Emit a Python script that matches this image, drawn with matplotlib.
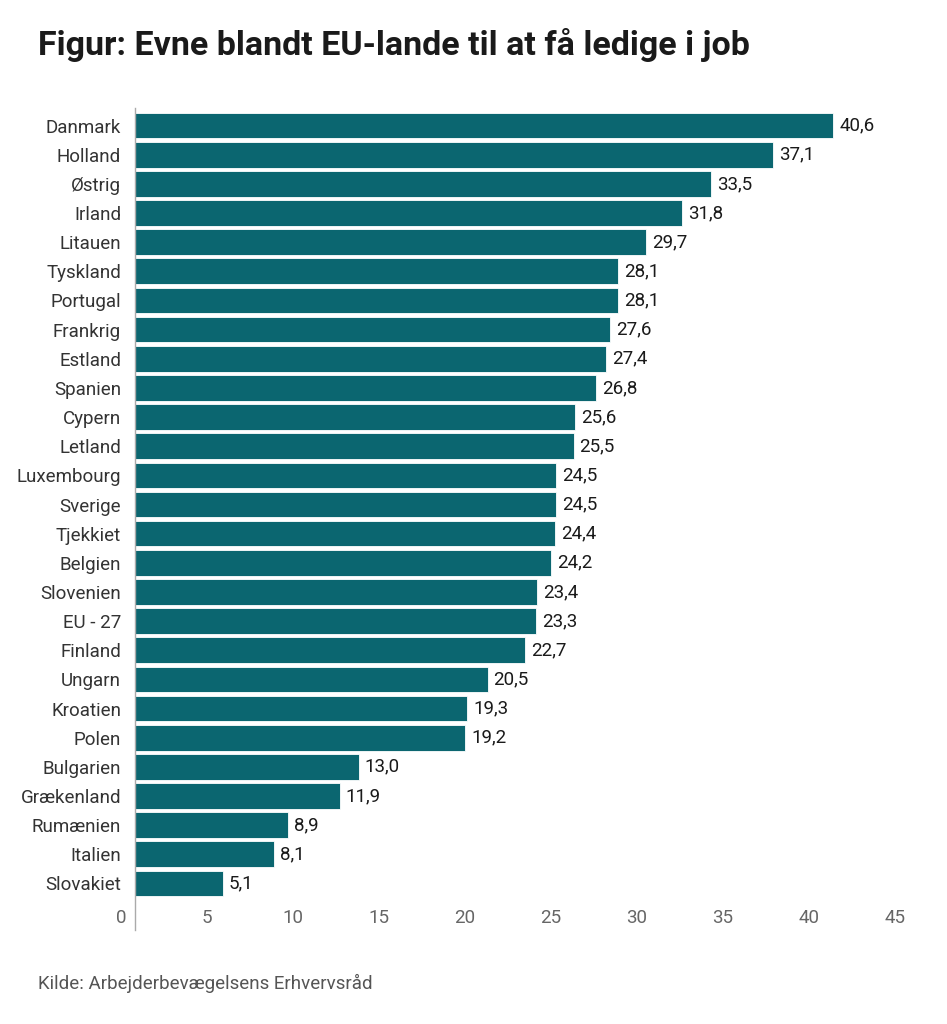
import numpy as np
import matplotlib
matplotlib.use('Agg')
import matplotlib.pyplot as plt
import matplotlib.transforms as mtransforms

plt.rcParams['font.family'] = ['Roboto', 'DejaVu Sans']

countries = ['Danmark', 'Holland', 'Østrig', 'Irland', 'Litauen', 'Tyskland',
             'Portugal', 'Frankrig', 'Estland', 'Spanien', 'Cypern', 'Letland',
             'Luxembourg', 'Sverige', 'Tjekkiet', 'Belgien', 'Slovenien',
             'EU - 27', 'Finland', 'Ungarn', 'Kroatien', 'Polen', 'Bulgarien',
             'Grækenland', 'Rumænien', 'Italien', 'Slovakiet']
values = [40.6, 37.1, 33.5, 31.8, 29.7, 28.1, 28.1, 27.6, 27.4, 26.8, 25.6,
          25.5, 24.5, 24.5, 24.4, 24.2, 23.4, 23.3, 22.7, 20.5, 19.3, 19.2,
          13.0, 11.9, 8.9, 8.1, 5.1]
xticks = [0, 5, 10, 15, 20, 25, 30, 35, 40, 45]

W, H = 947, 1024
fig = plt.figure(figsize=(W / 100, H / 100), dpi=100)

# axes placed in pixel terms: left at the baseline, top at first bar
left, right, top, bottom = 135, 909, 111, 898
ax = fig.add_axes([left / W, 1 - bottom / H, (right - left) / W, (bottom - top) / H])

bar_color = '#0b6670'
y = np.arange(len(countries))
ax.barh(y, values, height=0.88, color=bar_color, edgecolor='white', linewidth=0.6)

for yi, v in zip(y, values):
    ax.text(v + 0.35, yi, f'{v:.1f}'.replace('.', ','), va='center', ha='left',
            fontsize=13.5, color='#1a1a1a')

ax.set_yticks(y)
ax.set_yticklabels(countries, fontsize=13.5, color='#333333')
ax.set_ylim(len(countries) - 0.5, -0.5)
ax.set_xlim(0, 45)
ax.set_xticks(xticks)
ax.set_xticklabels([str(t) for t in xticks], fontsize=13.5, color='#666666')

ax.tick_params(axis='y', length=0, pad=10)
ax.tick_params(axis='x', length=0, pad=8)
# tick labels sit slightly left of the true positions in the reference
shift = mtransforms.ScaledTranslation(-14 / 100, 0, fig.dpi_scale_trans)
for lab in ax.get_xticklabels():
    lab.set_transform(lab.get_transform() + shift)

for s in ['top', 'right', 'bottom', 'left']:
    ax.spines[s].set_visible(False)
ax.plot([0, 0], [-0.62, 27.6], color='#aaaaaa', lw=1, clip_on=False,
        transform=ax.transData)

fig.text(38 / W, 1 - 45 / H, 'Figur: Evne blandt EU-lande til at få ledige i job',
         fontsize=24.5, fontweight='bold', color='#1a1a1a', va='center', ha='left')
fig.text(38 / W, 1 - 983 / H, 'Kilde: Arbejderbevægelsens Erhvervsråd',
         fontsize=13.5, color='#555555', va='center', ha='left')

fig.savefig('out.png', dpi=100, facecolor='white')
